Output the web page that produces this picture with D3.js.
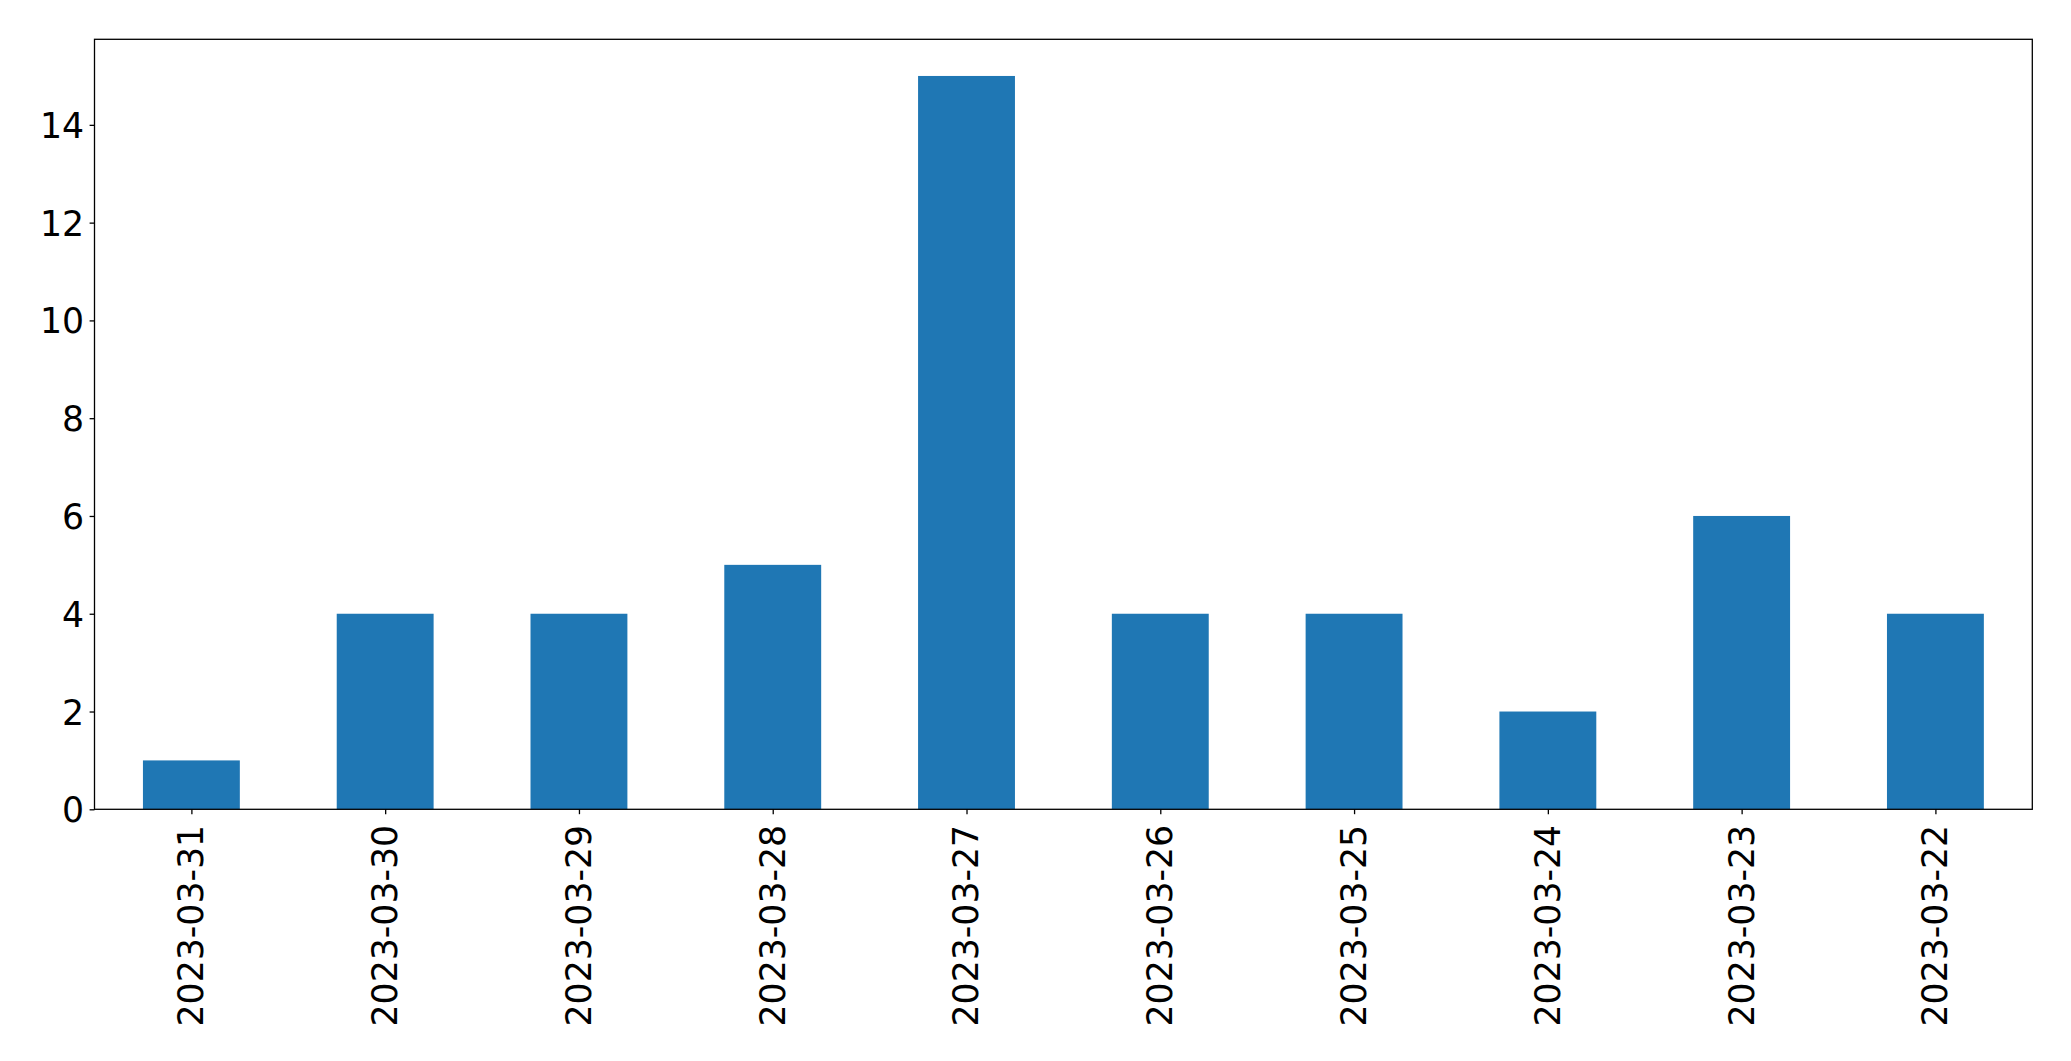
<!DOCTYPE html>
<html>
<head>
<meta charset="utf-8">
<script src="https://cdn.jsdelivr.net/npm/d3@7"></script>
<style>
  html, body { margin: 0; padding: 0; background: #fff; }
  svg { display: block; }
</style>
</head>
<body>
<script>
const categories = ["2023-03-31","2023-03-30","2023-03-29","2023-03-28","2023-03-27","2023-03-26","2023-03-25","2023-03-24","2023-03-23","2023-03-22"];
const values = [1, 4, 4, 5, 15, 4, 4, 2, 6, 4];
const yTicks = [0, 2, 4, 6, 8, 10, 12, 14];

(function () {
const W = 2071, H = 1061;
const mLeft = 94.5, mRight = 2032.3, mTop = 39.3, mBottom = 809.3;
const fontSize = 34.7;
const tickLen = 4.9;

const svg = d3.select("body").append("svg").attr("width", W).attr("height", H);

const x = d3.scaleLinear().domain([-0.5, categories.length - 0.5]).range([mLeft, mRight]);
const y = d3.scaleLinear().domain([0, d3.max(values) * 1.05]).range([mBottom, mTop]);

svg.append("g").selectAll("rect").data(values).join("rect")
  .attr("x", (d, i) => x(i - 0.25))
  .attr("width", (d, i) => x(i + 0.25) - x(i - 0.25))
  .attr("y", d => y(d))
  .attr("height", d => y(0) - y(d))
  .attr("fill", "#1f77b4");

// frame
svg.append("rect").attr("x", mLeft).attr("y", mTop)
  .attr("width", mRight - mLeft).attr("height", mBottom - mTop)
  .attr("fill", "none").attr("stroke", "#000").attr("stroke-width", 1.3);

// y axis
const yAxis = d3.axisLeft(y).tickValues(yTicks).tickSize(tickLen).tickPadding(5.5).tickSizeOuter(0);
const gy = svg.append("g").attr("transform", `translate(${mLeft},0)`).call(yAxis);
gy.select(".domain").remove();
gy.selectAll("line").attr("stroke", "#000").attr("stroke-width", 1.3);
gy.selectAll("text").attr("font-family", "DejaVu Sans").attr("font-size", fontSize).attr("fill", "#000")
  .attr("dy", "0.36em");

// x axis
const xAxis = d3.axisBottom(x).tickValues(d3.range(categories.length))
  .tickFormat(i => categories[i]).tickSize(tickLen).tickSizeOuter(0);
const gx = svg.append("g").attr("transform", `translate(0,${mBottom})`).call(xAxis);
gx.select(".domain").remove();
gx.selectAll("line").attr("stroke", "#000").attr("stroke-width", 1.3);
gx.selectAll("text")
  .attr("font-family", "DejaVu Sans").attr("font-size", fontSize).attr("fill", "#000")
  .attr("transform", "rotate(-90)")
  .attr("text-anchor", "end")
  .attr("x", -15.6)
  .attr("y", 0)
  .attr("dy", "0.33em");
})();
</script>
</body>
</html>
